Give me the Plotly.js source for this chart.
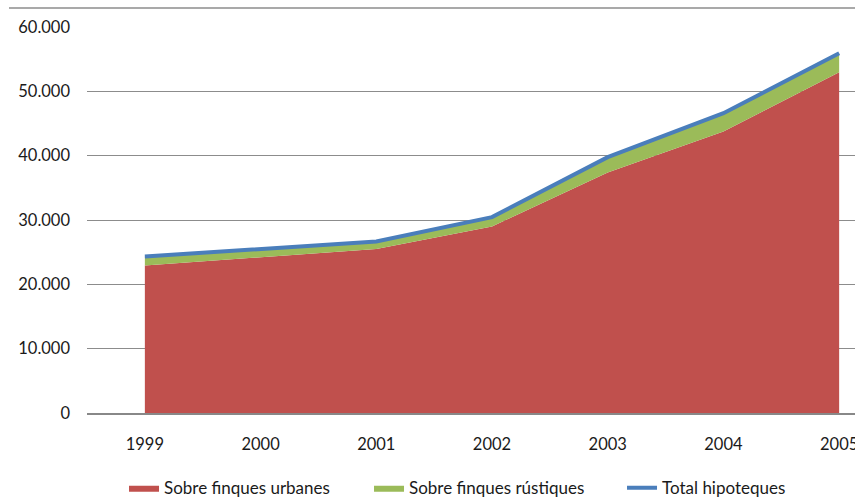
<!DOCTYPE html>
<html>
<head>
<meta charset="utf-8">
<script src="https://cdn.plot.ly/plotly-3.0.1.min.js"></script>
<style>html,body{margin:0;padding:0;background:#fff;}#chart{width:855px;height:499px;}</style>
</head>
<body>
<div id="chart"></div>
<script>
const years = ['1999','2000','2001','2002','2003','2004','2005'];
const urbanes = [22930, 24240, 25480, 28990, 37380, 43740, 52970];
const rustiques = [1400, 1290, 1180, 1460, 2390, 2860, 2950];
const total = [24330, 25530, 26660, 30450, 39770, 46600, 55920];
const yTicks = [0, 10000, 20000, 30000, 40000, 50000, 60000];

const FONT = 'Lato, "Open Sans", sans-serif';

const traces = [
  {x: years, y: urbanes, name: 'Sobre finques urbanes', type: 'scatter', mode: 'lines',
   stackgroup: 'one', line: {width: 0, color: '#C0504D'}, fillcolor: '#C0504D', hoverinfo: 'skip',
   legendwidth: 200},
  {x: years, y: rustiques, name: 'Sobre finques rústiques', type: 'scatter', mode: 'lines',
   stackgroup: 'one', line: {width: 0, color: '#9BBB59'}, fillcolor: '#9BBB59', hoverinfo: 'skip',
   legendwidth: 208},
  {x: years, y: total, name: 'Total hipoteques', type: 'scatter', mode: 'lines',
   line: {width: 4, color: '#4A7EBB'}, hoverinfo: 'skip'}
];

const layout = {
  width: 855, height: 499,
  margin: {l: 87, r: 0, t: 27, b: 86, autoexpand: false},
  paper_bgcolor: '#fff', plot_bgcolor: '#fff',
  separators: ',.',
  font: {family: FONT, size: 16.5, color: '#1a1a1a'},
  showlegend: true,
  legend: {orientation: 'h', x: 0.0482, xanchor: 'left', y: -0.195, yanchor: 'middle',
           font: {family: FONT, size: 17, color: '#1a1a1a'}, traceorder: 'normal',
           itemwidth: 30, tracegroupgap: 0, entrywidthmode: 'pixels'},
  xaxis: {type: 'category', range: [-0.5, 6.137], showgrid: false, zeroline: false,
          showline: true, linecolor: '#888', linewidth: 2, ticks: '',
          ticklabelstandoff: 15, tickfont: {family: FONT, size: 16.5, color: '#1a1a1a'}, fixedrange: true},
  yaxis: {range: [0, 60000], tickvals: yTicks, tickformat: ',d', showgrid: true,
          gridcolor: '#8c8c8c', gridwidth: 1, zeroline: false, showline: false,
          ticks: '', ticklabelstandoff: 16, tickfont: {family: FONT, size: 16.5, color: '#1a1a1a'}, fixedrange: true},
  shapes: [
    {type: 'line', xref: 'paper', yref: 'paper', x0: -0.1016, x1: 1, y0: 1.049, y1: 1.049,
     line: {color: '#8c8c8c', width: 1.5}}
  ]
};

Plotly.newPlot('chart', traces, layout, {displayModeBar: false, staticPlot: true});
</script>
</body>
</html>
